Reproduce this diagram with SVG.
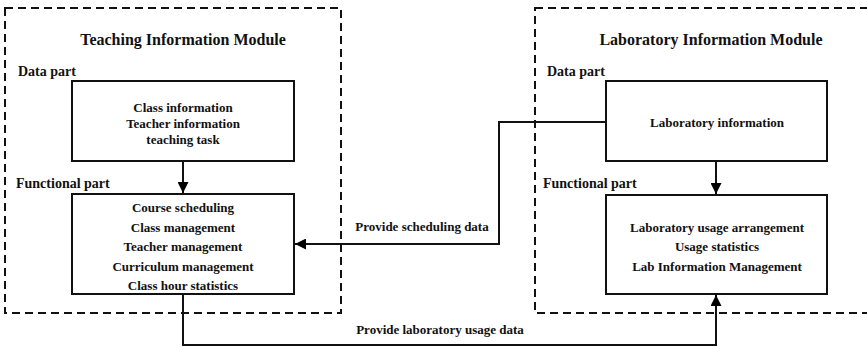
<svg xmlns="http://www.w3.org/2000/svg" width="867" height="347" viewBox="0 0 867 347">
<defs>
<marker id="ah" viewBox="0 0 10 10" refX="10" refY="5" markerWidth="11" markerHeight="11" markerUnits="userSpaceOnUse" orient="auto">
<path d="M0,0 L10,5 L0,10 Z" fill="#000"/>
</marker>
</defs>
<style>
.mod{fill:none;stroke:#111;stroke-width:2;stroke-dasharray:8,5}
.box{fill:#fff;stroke:#111;stroke-width:2}
.t{font-family:"Liberation Serif","Times New Roman",serif;font-weight:bold;fill:#111}
.title{font-size:16px;text-anchor:middle}
.lbl{font-size:14px}
.in{font-size:13px;text-anchor:middle}
.conn{fill:none;stroke:#111;stroke-width:2}
</style>
<rect width="867" height="347" fill="#fff"/>
<g id="teaching-module">
<rect class="mod" x="5" y="8" width="336" height="305"/>
<text class="t title" x="183" y="45">Teaching Information Module</text>
<text class="t lbl" x="18" y="76">Data part</text>
<text class="t lbl" x="16" y="188">Functional part</text>
</g>
<g id="lab-module">
<rect class="mod" x="535" y="8" width="340" height="305"/>
<text class="t title" x="711" y="45">Laboratory Information Module</text>
<text class="t lbl" x="547" y="76">Data part</text>
<text class="t lbl" x="543" y="188">Functional part</text>
</g>
<g id="teaching-data">
<rect class="box" x="72" y="81" width="222" height="80"/>
<text class="t in" x="183" y="112">Class information</text>
<text class="t in" x="183" y="128">Teacher information</text>
<text class="t in" x="183" y="144">teaching task</text>
</g>
<g id="teaching-functional">
<rect class="box" x="72" y="194" width="222" height="100"/>
<text class="t in" x="183" y="212">Course scheduling</text>
<text class="t in" x="183" y="232">Class management</text>
<text class="t in" x="183" y="251">Teacher management</text>
<text class="t in" x="183" y="271">Curriculum management</text>
<text class="t in" x="183" y="290">Class hour statistics</text>
</g>
<g id="lab-data">
<rect class="box" x="606" y="81" width="221" height="80"/>
<text class="t in" x="717" y="127">Laboratory information</text>
</g>
<g id="lab-functional">
<rect class="box" x="606" y="195" width="221" height="99"/>
<text class="t in" x="717" y="232">Laboratory usage arrangement</text>
<text class="t in" x="717" y="251">Usage statistics</text>
<text class="t in" x="717" y="271">Lab Information Management</text>
</g>
<g id="connectors">
<path class="conn" d="M183,161 V193" marker-end="url(#ah)"/>
<path class="conn" d="M716,161 V194" marker-end="url(#ah)"/>
<path class="conn" d="M606,122 H499 V244 H295" marker-end="url(#ah)"/>
<path class="conn" d="M183,294 V345 H716 V295" marker-end="url(#ah)"/>
<text class="t in" x="422" y="231">Provide scheduling data</text>
<text class="t in" x="440" y="334">Provide laboratory usage data</text>
</g>
</svg>
